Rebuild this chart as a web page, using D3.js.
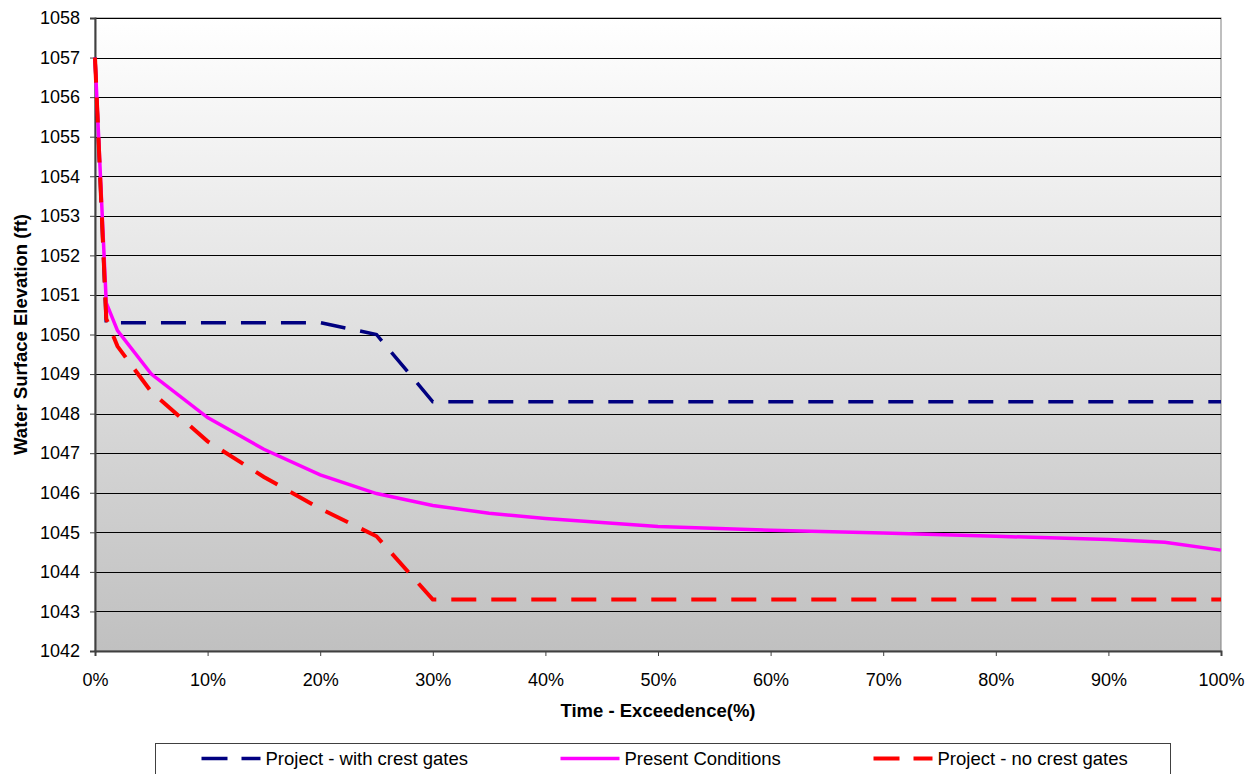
<!DOCTYPE html>
<html>
<head>
<meta charset="utf-8">
<script src="https://cdn.jsdelivr.net/npm/d3@7"></script>
<style>
  body { margin: 0; background: #fff; }
  text { font-family: "Liberation Sans", Arial, sans-serif; }
</style>
</head>
<body>
<div id="chart"></div>
<script>
// Data
const yTicks = d3.range(1042, 1059, 1);
const xTicks = [0, 10, 20, 30, 40, 50, 60, 70, 80, 90, 100];

const withGatesX = [0, 1, 20, 25, 30, 100];
const withGatesY = [1057, 1050.3, 1050.3, 1050.0, 1048.3, 1048.3];

const presentX = [0, 1, 2, 5, 10, 15, 20, 25, 30, 35, 40, 50, 60, 70, 80, 90, 95, 100];
const presentY = [1057, 1050.8, 1050.1, 1049.0, 1047.9, 1047.1, 1046.45, 1045.98, 1045.68,
  1045.48, 1045.35, 1045.15, 1045.05, 1044.98, 1044.9, 1044.82, 1044.75, 1044.55];

const noGatesX = [0, 1, 2, 5, 10, 15, 20, 25, 30, 100];
const noGatesY = [1057, 1050.4, 1049.7, 1048.55, 1047.3, 1046.4, 1045.6, 1044.9, 1043.3, 1043.3];

const seriesNames = ["Project - with crest gates", "Present Conditions", "Project - no crest gates"];

// Layout
const W = 1254, H = 774;
const margin = { top: 18, right: 33, bottom: 123, left: 95 };
const width = W - margin.left - margin.right;
const height = H - margin.top - margin.bottom;
const fontFamily = "Liberation Sans, Arial, sans-serif";

const svg = d3.select("#chart").append("svg")
  .attr("width", W)
  .attr("height", H);

const defs = svg.append("defs");
const grad = defs.append("linearGradient")
  .attr("id", "bg-grad")
  .attr("x1", 0).attr("y1", 0).attr("x2", 0).attr("y2", 1);
grad.append("stop").attr("offset", "0%").attr("stop-color", "#ffffff");
grad.append("stop").attr("offset", "100%").attr("stop-color", "#c0c0c0");

const g = svg.append("g")
  .attr("transform", "translate(" + margin.left + "," + margin.top + ")");

const x = d3.scaleLinear().domain([0, 100]).range([0, width]);
const y = d3.scaleLinear().domain([1042, 1058]).range([height, 0]);

// plot background
g.append("rect")
  .attr("width", width)
  .attr("height", height)
  .attr("fill", "url(#bg-grad)")
  .attr("stroke", "#808080")
  .attr("stroke-width", 1);

// gridlines
g.append("g")
  .selectAll("line")
  .data(yTicks.slice(1))
  .enter()
  .append("line")
  .attr("x1", 0)
  .attr("x2", width)
  .attr("y1", function (d) { return Math.round(y(d)) + 0.5; })
  .attr("y2", function (d) { return Math.round(y(d)) + 0.5; })
  .attr("stroke", "#000")
  .attr("stroke-width", 1);

// Y axis
const yAxis = g.append("g")
  .call(d3.axisLeft(y).tickValues(yTicks).tickSize(5).tickPadding(10).tickFormat(d3.format("d")));
yAxis.select(".domain").attr("stroke", "#404040").attr("stroke-width", 2);
yAxis.selectAll(".tick line").attr("stroke", "#404040");
yAxis.selectAll("text").attr("font-size", "18px").attr("fill", "#000")
  .style("font-family", fontFamily);

// X axis
const xAxis = g.append("g")
  .attr("transform", "translate(0," + height + ")")
  .call(d3.axisBottom(x).tickValues(xTicks).tickSize(5).tickPadding(17)
    .tickFormat(function (d) { return d + "%"; }));
xAxis.select(".domain").attr("stroke", "#404040").attr("stroke-width", 2);
xAxis.selectAll(".tick line").attr("stroke", "#404040");
xAxis.selectAll("text").attr("font-size", "18px").attr("fill", "#000")
  .style("font-family", fontFamily);

// axis titles
g.append("text")
  .attr("transform", "translate(" + width / 2 + "," + (height + 66) + ")")
  .attr("text-anchor", "middle")
  .attr("font-size", "18.5px")
  .attr("font-weight", "bold")
  .text("Time - Exceedence(%)");

g.append("text")
  .attr("transform", "rotate(-90)")
  .attr("x", -height / 2)
  .attr("y", -68)
  .attr("text-anchor", "middle")
  .attr("font-size", "18.5px")
  .attr("font-weight", "bold")
  .text("Water Surface Elevation (ft)");

// lines
const line = d3.line()
  .x(function (d) { return x(d[0]); })
  .y(function (d) { return y(d[1]); });

const series = [
  { xs: withGatesX, ys: withGatesY, color: "#000080", width: 3.5, dash: "25,15" },
  { xs: presentX, ys: presentY, color: "#ff00ff", width: 3.5, dash: null },
  { xs: noGatesX, ys: noGatesY, color: "#ff0000", width: 4, dash: "25,15" },
];

const plot = g.append("g");
series.forEach(function (s) {
  plot.append("path")
    .datum(d3.zip(s.xs, s.ys))
    .attr("fill", "none")
    .attr("stroke", s.color)
    .attr("stroke-width", s.width)
    .attr("stroke-dasharray", s.dash)
    .attr("d", line);
});

// legend
const legend = svg.append("g").attr("transform", "translate(155.5,743.5)");
legend.append("rect")
  .attr("width", 1015)
  .attr("height", 40)
  .attr("fill", "#fff")
  .attr("stroke", "#404040")
  .attr("stroke-width", 1);

const legendX = [46, 405, 718];
series.forEach(function (s, i) {
  const item = legend.append("g").attr("transform", "translate(" + legendX[i] + ",15)");
  item.append("line")
    .attr("x1", 0).attr("x2", 59)
    .attr("y1", 0).attr("y2", 0)
    .attr("stroke", s.color)
    .attr("stroke-width", s.width)
    .attr("stroke-dasharray", s.dash ? "26,14" : null);
  item.append("text")
    .attr("x", 64)
    .attr("y", 6)
    .attr("font-size", "18.5px")
    .text(seriesNames[i]);
});
</script>
</body>
</html>
